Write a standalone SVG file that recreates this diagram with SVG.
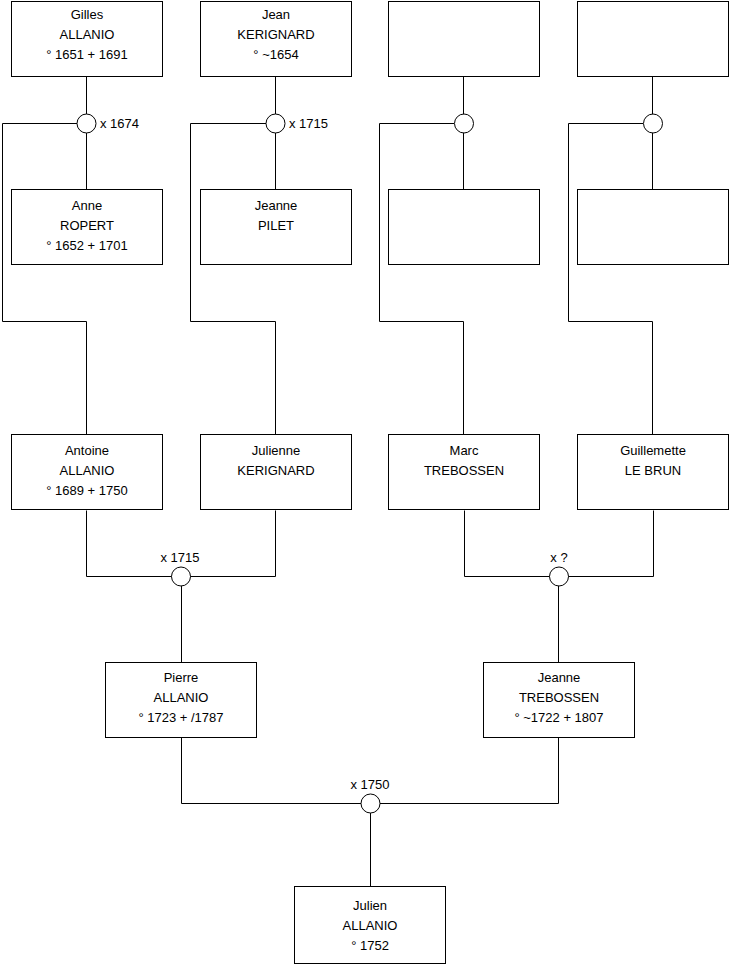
<svg xmlns="http://www.w3.org/2000/svg" width="740" height="975" viewBox="0 0 740 975">
<style>
.box{fill:#fff;stroke:#000;stroke-width:1}
.c{fill:#fff;stroke:#000;stroke-width:1}
.ln{fill:none;stroke:#000;stroke-width:1}
text{font-family:"Liberation Sans",Arial,sans-serif;font-size:13px;fill:#000}
.m{text-anchor:middle}
</style>
<rect width="740" height="975" fill="#fff"/>
<g id="connectors">
<path class="ln" d="M86.5 76.5V189.5M2.5 321.5V123.5H77M86.5 321.5H2.5M86.5 321.5V434.5"/>
<path class="ln" d="M275.5 76.5V189.5M190.5 321.5V123.5H266M275.5 321.5H190.5M275.5 321.5V434.5"/>
<path class="ln" d="M463.5 76.5V189.5M379.5 321.5V123.5H454M463.5 321.5H379.5M463.5 321.5V434.5"/>
<path class="ln" d="M652.5 76.5V189.5M568.5 321.5V123.5H643M652.5 321.5H568.5M652.5 321.5V434.5"/>
<path class="ln" d="M86.5 510.5V576.5H275.5V510.5M181.5 576.5V662.5"/>
<path class="ln" d="M464.5 510.5V576.5H653.5V510.5M558.5 576.5V662.5"/>
<path class="ln" d="M181.5 737.5V803.5H558.5V737.5M370.5 803.5V886.5"/>
</g>
<g id="u1"><circle class="c" cx="86.5" cy="123.5" r="9.5"/><text x="100" y="128">x 1674</text></g>
<g id="u2"><circle class="c" cx="275.5" cy="123.5" r="9.5"/><text x="289" y="128">x 1715</text></g>
<g id="u3"><circle class="c" cx="464" cy="123.5" r="9.5"/></g>
<g id="u4"><circle class="c" cx="653" cy="123.5" r="9.5"/></g>
<g id="u5"><circle class="c" cx="181" cy="576.5" r="9.5"/><text class="m" x="180" y="562">x 1715</text></g>
<g id="u6"><circle class="c" cx="559" cy="576.5" r="9.5"/><text class="m" x="559" y="562">x ?</text></g>
<g id="u7"><circle class="c" cx="370.5" cy="803.5" r="9.5"/><text class="m" x="370" y="789">x 1750</text></g>
<g id="gilles"><rect class="box" x="11.5" y="1.5" width="151" height="75"/><text class="m" x="87" y="19">Gilles</text><text class="m" x="87" y="39">ALLANIO</text><text class="m" x="87" y="59">° 1651 + 1691</text></g>
<g id="jean"><rect class="box" x="200.5" y="1.5" width="151" height="75"/><text class="m" x="276" y="19">Jean</text><text class="m" x="276" y="39">KERIGNARD</text><text class="m" x="276" y="59">° ~1654</text></g>
<g id="blank1"><rect class="box" x="388.5" y="1.5" width="151" height="75"/></g>
<g id="blank2"><rect class="box" x="577.5" y="1.5" width="151" height="75"/></g>
<g id="anne"><rect class="box" x="11.5" y="189.5" width="151" height="75"/><text class="m" x="87" y="210">Anne</text><text class="m" x="87" y="230">ROPERT</text><text class="m" x="87" y="250">° 1652 + 1701</text></g>
<g id="jeanne-pilet"><rect class="box" x="200.5" y="189.5" width="151" height="75"/><text class="m" x="276" y="210">Jeanne</text><text class="m" x="276" y="230">PILET</text></g>
<g id="blank3"><rect class="box" x="388.5" y="189.5" width="151" height="75"/></g>
<g id="blank4"><rect class="box" x="577.5" y="189.5" width="151" height="75"/></g>
<g id="antoine"><rect class="box" x="11.5" y="434.5" width="151" height="75"/><text class="m" x="87" y="455">Antoine</text><text class="m" x="87" y="475">ALLANIO</text><text class="m" x="87" y="495">° 1689 + 1750</text></g>
<g id="julienne"><rect class="box" x="200.5" y="434.5" width="151" height="75"/><text class="m" x="276" y="455">Julienne</text><text class="m" x="276" y="475">KERIGNARD</text></g>
<g id="marc"><rect class="box" x="388.5" y="434.5" width="151" height="75"/><text class="m" x="464" y="455">Marc</text><text class="m" x="464" y="475">TREBOSSEN</text></g>
<g id="guillemette"><rect class="box" x="577.5" y="434.5" width="151" height="75"/><text class="m" x="653" y="455">Guillemette</text><text class="m" x="653" y="475">LE BRUN</text></g>
<g id="pierre"><rect class="box" x="105.5" y="662.5" width="151" height="75"/><text class="m" x="181" y="682">Pierre</text><text class="m" x="181" y="702">ALLANIO</text><text class="m" x="181" y="722">° 1723 + /1787</text></g>
<g id="jeanne-trebossen"><rect class="box" x="483.5" y="662.5" width="151" height="75"/><text class="m" x="559" y="682">Jeanne</text><text class="m" x="559" y="702">TREBOSSEN</text><text class="m" x="559" y="722">° ~1722 + 1807</text></g>
<g id="julien"><rect class="box" x="294.5" y="886.5" width="151" height="77"/><text class="m" x="370" y="910">Julien</text><text class="m" x="370" y="930">ALLANIO</text><text class="m" x="370" y="950">° 1752</text></g>
</svg>
